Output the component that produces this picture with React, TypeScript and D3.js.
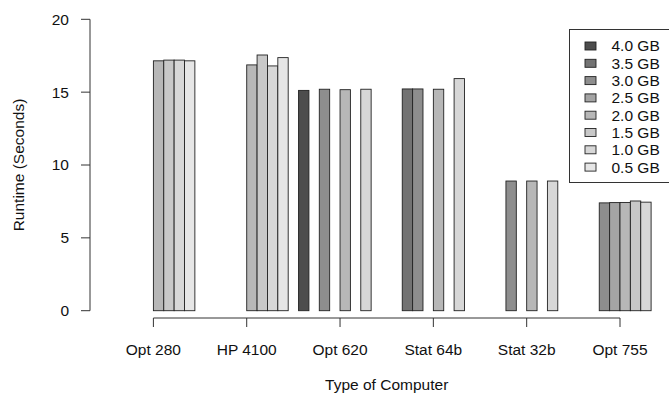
import React from "react";
import * as d3 from "d3";

// Computers on the x axis and memory sizes in each group
const computers = ["Opt 280", "HP 4100", "Opt 620", "Stat 64b", "Stat 32b", "Opt 755"];
const memorySizes = ["4.0 GB", "3.5 GB", "3.0 GB", "2.5 GB", "2.0 GB", "1.5 GB", "1.0 GB", "0.5 GB"];
const fills = ["#4D4D4D", "#737373", "#8E8E8E", "#A4A4A4", "#B7B7B7", "#C8C8C8", "#D7D7D7", "#E6E6E6"];

// Runtime in seconds, one entry per memory size (null = not measured)
const opt280 = [null, null, null, null, 17.15, 17.2, 17.2, 17.15];
const hp4100 = [null, null, null, null, 16.87, 17.55, 16.8, 17.37];
const opt620 = [15.12, null, 15.2, null, 15.17, null, 15.2, null];
const stat64b = [null, 15.22, 15.22, null, 15.2, null, 15.93, null];
const stat32b = [null, null, 8.9, null, 8.9, null, 8.9, null];
const opt755 = [null, null, 7.4, 7.42, 7.43, 7.53, 7.45, null];

const runtimes = [opt280, hp4100, opt620, stat64b, stat32b, opt755];
const yTicks = [0, 5, 10, 15, 20];

const W = 669;
const H = 401;
const font = "'Liberation Sans', Arial, Helvetica, sans-serif";
const fs = 15.5;

export default function App() {
  // x in bar-width units: each group is 8 bars plus one bar of spacing before it
  const x = d3.scaleLinear().domain([0, 54]).range([101.55, 101.55 + 54 * 10.369]);
  const y = d3.scaleLinear().domain([0, 20]).range([310.7, 19.3]);

  const groupStart = (g: number) => 1 + 9 * g;
  const groupCenter = (g: number) => groupStart(g) + 4;

  const bars: { g: number; s: number; v: number }[] = [];
  runtimes.forEach((row, g) =>
    row.forEach((v, s) => {
      if (v !== null) bars.push({ g, s, v: v as number });
    })
  );

  const axisY = 318;
  const legendX = 569.5;
  const legendY = 29.5;
  const rowH = 17.3;

  return (
    <svg
      width={W}
      height={H}
      style={{ position: "absolute", left: 0, top: 0, background: "#fff" }}
      fontFamily={font}
    >
      {/* bars */}
      {bars.map((b, i) => {
        const x0 = x(groupStart(b.g) + b.s);
        const x1 = x(groupStart(b.g) + b.s + 1);
        return (
          <rect
            key={i}
            x={x0}
            y={y(b.v)}
            width={x1 - x0}
            height={y(0) - y(b.v)}
            fill={fills[b.s]}
            stroke="#222"
            strokeWidth={0.9}
          />
        );
      })}

      {/* y axis */}
      <line x1={90} x2={90} y1={y(0)} y2={y(20)} stroke="#333" strokeWidth={1} />
      {yTicks.map((t) => (
        <g key={t}>
          <line x1={81} x2={90} y1={y(t)} y2={y(t)} stroke="#333" strokeWidth={1} />
          <text x={69} y={y(t)} dy="0.35em" textAnchor="end" fontSize={fs} fill="#111">
            {t}
          </text>
        </g>
      ))}
      <text
        transform={`translate(24,${(y(0) + y(20)) / 2}) rotate(-90)`}
        textAnchor="middle"
        fontSize={fs}
        fill="#111"
      >
        Runtime (Seconds)
      </text>

      {/* x axis */}
      <line
        x1={x(groupCenter(0))}
        x2={x(groupCenter(computers.length - 1))}
        y1={axisY}
        y2={axisY}
        stroke="#333"
        strokeWidth={1}
      />
      {computers.map((c, g) => (
        <g key={c}>
          <line
            x1={x(groupCenter(g))}
            x2={x(groupCenter(g))}
            y1={axisY}
            y2={axisY + 9}
            stroke="#333"
            strokeWidth={1}
          />
          <text x={x(groupCenter(g))} y={355} textAnchor="middle" fontSize={fs} fill="#111">
            {c}
          </text>
        </g>
      ))}
      <text
        x={(x(groupCenter(0)) + x(groupCenter(5))) / 2}
        y={390}
        textAnchor="middle"
        fontSize={fs}
        fill="#111"
      >
        Type of Computer
      </text>

      {/* legend */}
      <rect
        x={legendX}
        y={legendY}
        width={120}
        height={153}
        fill="#fff"
        stroke="#333"
        strokeWidth={1}
      />
      {memorySizes.map((m, i) => {
        const cy = legendY + 16.5 + i * rowH;
        return (
          <g key={m}>
            <rect x={585} y={cy - 4} width={11} height={8} fill={fills[i]} stroke="#222" strokeWidth={0.9} />
            <text x={611.5} y={cy} dy="0.35em" fontSize={fs} fill="#111">
              {m}
            </text>
          </g>
        );
      })}
    </svg>
  );
}
